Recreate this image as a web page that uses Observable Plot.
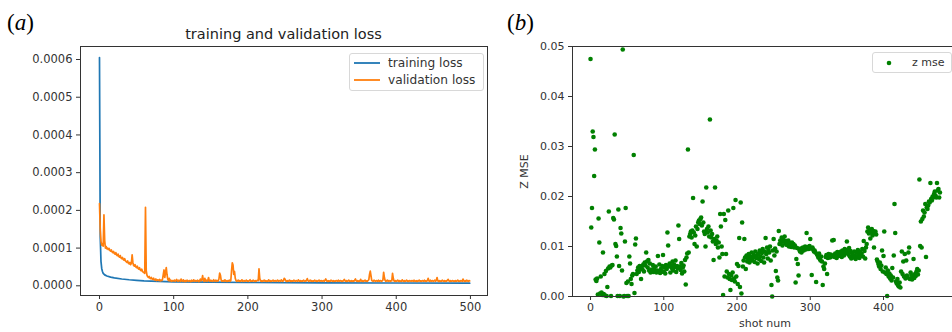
<!DOCTYPE html>
<html><head><meta charset="utf-8">
<script src="https://cdn.jsdelivr.net/npm/d3@7"></script>
<script src="https://cdn.jsdelivr.net/npm/@observablehq/plot@0.6"></script>
<style>
body{margin:0;background:#fff;}
#fig{position:relative;width:952px;height:332px;overflow:hidden;font-family:"DejaVu Sans",sans-serif;color:#333;background:#fff;}
.abs{position:absolute;}
.panel{font-family:"Liberation Serif",serif;font-size:23px;color:#000;line-height:1;}
.leg{position:absolute;border:1px solid #d8d8d8;border-radius:3px;background:rgba(255,255,255,0.85);font-size:12.2px;color:#333;}
</style></head><body><div id="fig"></div>
<script>
// ---- panel (a): training / validation loss ----
const trainEpochs = [0,1,2,3,4,5,7,10,15,20,30,40,50,60,80,100,150,200,300,400,499];
const trainLoss = [6.05e-4,1.3e-4,6.5e-5,4.6e-5,3.8e-5,3.3e-5,2.9e-5,2.6e-5,2.3e-5,2.1e-5,1.8e-5,1.6e-5,1.45e-5,1.3e-5,1.15e-5,1.05e-5,9.5e-6,8.8e-6,8.0e-6,7.4e-6,7.0e-6];
// validation loss, one value per epoch (index = epoch)
const valLoss = [
218e-6,150e-6,118e-6,108e-6,112e-6,105e-6,188e-6,120e-6,100e-6,104e-6,
98e-6,100e-6,96e-6,99e-6,94e-6,92e-6,95e-6,90e-6,88e-6,91e-6,
86e-6,84e-6,88e-6,82e-6,80e-6,84e-6,78e-6,76e-6,80e-6,74e-6,
72e-6,75e-6,70e-6,68e-6,72e-6,66e-6,64e-6,62e-6,66e-6,60e-6,
58e-6,62e-6,56e-6,60e-6,82e-6,62e-6,54e-6,52e-6,56e-6,50e-6,
48e-6,52e-6,46e-6,44e-6,48e-6,42e-6,40e-6,44e-6,38e-6,36e-6,
35e-6,33e-6,208e-6,40e-6,28e-6,24e-6,22e-6,25e-6,20e-6,19e-6,
22e-6,18e-6,17e-6,20e-6,16e-6,15e-6,18e-6,14e-6,16e-6,15e-6,
14e-6,17e-6,13e-6,15e-6,14e-6,18e-6,30e-6,42e-6,22e-6,35e-6,
48e-6,30e-6,18e-6,14e-6,20e-6,13e-6,15e-6,12e-6,14e-6,13e-6,
13e-6,15e-6,12e-6,14e-6,17e-6,13e-6,12e-6,15e-6,14e-6,12e-6,18e-6,13e-6,12e-6,16e-6,13e-6,11e-6,14e-6,12e-6,15e-6,13e-6,
12e-6,14e-6,13e-6,11e-6,15e-6,12e-6,13e-6,16e-6,12e-6,14e-6,13e-6,12e-6,15e-6,13e-6,11e-6,14e-6,18e-6,13e-6,16e-6,27e-6,
14e-6,12e-6,20e-6,13e-6,15e-6,12e-6,14e-6,22e-6,13e-6,12e-6,15e-6,13e-6,12e-6,14e-6,16e-6,12e-6,13e-6,15e-6,12e-6,14e-6,
13e-6,18e-6,34e-6,28e-6,15e-6,12e-6,13e-6,14e-6,12e-6,16e-6,13e-6,12e-6,14e-6,12e-6,13e-6,15e-6,12e-6,14e-6,40e-6,61e-6,
55e-6,30e-6,38e-6,20e-6,14e-6,12e-6,13e-6,15e-6,12e-6,14e-6,12e-6,13e-6,16e-6,12e-6,13e-6,14e-6,12e-6,13e-6,15e-6,12e-6,
13e-6,12e-6,14e-6,16e-6,12e-6,13e-6,12e-6,15e-6,13e-6,12e-6,14e-6,12e-6,13e-6,15e-6,14e-6,45e-6,20e-6,13e-6,12e-6,14e-6,
12e-6,13e-6,15e-6,12e-6,14e-6,12e-6,13e-6,12e-6,16e-6,13e-6,12e-6,14e-6,12e-6,13e-6,15e-6,12e-6,13e-6,14e-6,12e-6,13e-6,
15e-6,12e-6,14e-6,13e-6,12e-6,16e-6,13e-6,12e-6,14e-6,20e-6,18e-6,13e-6,12e-6,14e-6,12e-6,13e-6,15e-6,12e-6,14e-6,12e-6,
13e-6,12e-6,15e-6,13e-6,12e-6,14e-6,13e-6,12e-6,16e-6,13e-6,12e-6,14e-6,12e-6,13e-6,12e-6,15e-6,13e-6,12e-6,14e-6,13e-6,
19e-6,14e-6,12e-6,13e-6,15e-6,12e-6,14e-6,12e-6,13e-6,12e-6,15e-6,13e-6,12e-6,14e-6,12e-6,13e-6,15e-6,12e-6,13e-6,14e-6,
12e-6,13e-6,14e-6,12e-6,15e-6,18e-6,13e-6,12e-6,14e-6,12e-6,13e-6,12e-6,15e-6,13e-6,12e-6,14e-6,12e-6,13e-6,12e-6,14e-6,
13e-6,12e-6,15e-6,12e-6,13e-6,14e-6,12e-6,13e-6,12e-6,14e-6,17e-6,13e-6,12e-6,14e-6,12e-6,13e-6,15e-6,12e-6,13e-6,12e-6,
14e-6,12e-6,13e-6,12e-6,15e-6,18e-6,13e-6,12e-6,14e-6,12e-6,13e-6,12e-6,17e-6,13e-6,12e-6,14e-6,12e-6,13e-6,15e-6,12e-6,
13e-6,12e-6,14e-6,16e-6,30e-6,39e-6,26e-6,14e-6,13e-6,12e-6,15e-6,13e-6,12e-6,14e-6,13e-6,12e-6,15e-6,12e-6,13e-6,14e-6,
12e-6,13e-6,15e-6,36e-6,22e-6,14e-6,12e-6,13e-6,15e-6,12e-6,14e-6,13e-6,12e-6,14e-6,13e-6,33e-6,20e-6,13e-6,12e-6,14e-6,
12e-6,13e-6,15e-6,12e-6,14e-6,12e-6,13e-6,12e-6,16e-6,13e-6,12e-6,14e-6,12e-6,13e-6,15e-6,12e-6,13e-6,12e-6,14e-6,13e-6,
12e-6,14e-6,13e-6,12e-6,15e-6,12e-6,13e-6,12e-6,14e-6,12e-6,13e-6,15e-6,12e-6,13e-6,12e-6,14e-6,13e-6,12e-6,15e-6,12e-6,
13e-6,12e-6,14e-6,20e-6,13e-6,12e-6,15e-6,12e-6,13e-6,14e-6,12e-6,13e-6,15e-6,12e-6,14e-6,22e-6,13e-6,12e-6,14e-6,12e-6,
13e-6,12e-6,15e-6,13e-6,12e-6,14e-6,12e-6,13e-6,12e-6,15e-6,17e-6,13e-6,12e-6,14e-6,12e-6,13e-6,14e-6,12e-6,13e-6,12e-6,
14e-6,12e-6,13e-6,15e-6,12e-6,13e-6,12e-6,14e-6,13e-6,12e-6,18e-6,13e-6,12e-6,14e-6,12e-6,15e-6,13e-6,12e-6,14e-6,13e-6
];
const epochTicks = [0,100,200,300,400,500];
const lossTicks = [0,0.0001,0.0002,0.0003,0.0004,0.0005,0.0006];
const seriesNames = ["training loss","validation loss"];
const seriesColors = ["#1f77b4","#ff7f0e"];

// ---- panel (b): z mse per shot (index = shot num) ----
const zMse = [
0.0475,0.0138,0.0177,0.0330,0.0319,0.0241,0.0294,0.0034,0.0031,0.0036,
0.0004,0.0156,0.0108,0.0006,0.0040,0.0008,0.0003,0.0088,0.0005,0.0045,
0.0002,0.0051,0.0001,0.0019,0.0056,0.0170,0.0060,0.0058,0.0001,0.0062,
0.0063,0.0157,0.0154,0.0324,0.0105,0.0101,0.0080,0.0001,0.0174,0.0061,
0.0001,0.0137,0.0126,0.0052,0.0494,0.0000,0.0001,0.0110,0.0177,0.0027,
0.0001,0.0030,0.0001,0.0080,0.0066,0.0035,0.0025,0.0042,0.0045,0.0283,
0.0007,0.0104,0.0116,0.0045,0.0052,0.0058,0.0049,0.0061,0.0055,0.0035,
0.0060,0.0054,0.0064,0.0050,0.0068,0.0062,0.0088,0.0070,0.0058,0.0073,
0.0052,0.0066,0.0048,0.0054,0.0050,0.0063,0.0049,0.0057,0.0051,0.0060,
0.0048,0.0052,0.0081,0.0050,0.0064,0.0047,0.0055,0.0049,0.0061,0.0083,
0.0050,0.0058,0.0046,0.0063,0.0055,0.0128,0.0102,0.0060,0.0066,0.0048,
0.0062,0.0057,0.0070,0.0052,0.0064,0.0059,0.0072,0.0049,0.0061,0.0056,
0.0142,0.0115,0.0060,0.0053,0.0067,0.0046,0.0058,0.0062,0.0050,0.0073,
0.0024,0.0078,0.0086,0.0294,0.0088,0.0120,0.0125,0.0130,0.0118,0.0132,
0.0197,0.0128,0.0105,0.0122,0.0140,0.0100,0.0135,0.0148,0.0152,0.0145,
0.0155,0.0158,0.0142,0.0190,0.0148,0.0130,0.0125,0.0100,0.0218,0.0135,
0.0128,0.0140,0.0120,0.0354,0.0132,0.0118,0.0125,0.0110,0.0073,0.0115,
0.0218,0.0105,0.0112,0.0120,0.0098,0.0108,0.0078,0.0165,0.0140,0.0100,
0.0085,0.0003,0.0165,0.0040,0.0153,0.0085,0.0050,0.0038,0.0172,0.0045,
0.0035,0.0013,0.0042,0.0033,0.0048,0.0177,0.0036,0.0030,0.0193,0.0040,
0.0065,0.0025,0.0061,0.0117,0.0019,0.0188,0.0006,0.0148,0.0060,0.0072,
0.0115,0.0078,0.0055,0.0082,0.0070,0.0076,0.0085,0.0068,0.0080,0.0074,
0.0088,0.0072,0.0079,0.0083,0.0069,0.0090,0.0077,0.0081,0.0066,0.0086,
0.0075,0.0092,0.0080,0.0071,0.0087,0.0095,0.0078,0.0068,0.0090,0.0117,
0.0085,0.0098,0.0076,0.0093,0.0088,0.0100,0.0072,0.0023,0.0000,0.0092,
0.0115,0.0082,0.0096,0.0051,0.0090,0.0038,0.0032,0.0131,0.0105,0.0112,
0.0108,0.0118,0.0102,0.0114,0.0110,0.0120,0.0106,0.0111,0.0103,0.0109,
0.0112,0.0100,0.0107,0.0104,0.0099,0.0108,0.0101,0.0105,0.0098,0.0102,
0.0028,0.0075,0.0097,0.0065,0.0042,0.0094,0.0090,0.0096,0.0088,0.0093,
0.0098,0.0092,0.0096,0.0100,0.0094,0.0127,0.0097,0.0099,0.0095,0.0101,
0.0115,0.0096,0.0043,0.0098,0.0094,0.0090,0.0092,0.0088,0.0029,0.0085,
0.0082,0.0078,0.0086,0.0075,0.0072,0.0080,0.0070,0.0023,0.0060,0.0055,
0.0066,0.0079,0.0083,0.0045,0.0077,0.0085,0.0081,0.0078,0.0084,0.0080,
0.0112,0.0082,0.0113,0.0079,0.0086,0.0083,0.0077,0.0089,0.0085,0.0081,
0.0088,0.0084,0.0090,0.0079,0.0092,0.0086,0.0082,0.0095,0.0087,0.0093,
0.0110,0.0089,0.0084,0.0097,0.0080,0.0091,0.0076,0.0087,0.0083,0.0078,
0.0090,0.0082,0.0075,0.0088,0.0079,0.0093,0.0084,0.0077,0.0089,0.0081,
0.0086,0.0095,0.0080,0.0111,0.0091,0.0076,0.0098,0.0105,0.0130,0.0138,
0.0126,0.0133,0.0116,0.0128,0.0135,0.0122,0.0131,0.0098,0.0127,0.0130,
0.0124,0.0074,0.0070,0.0065,0.0060,0.0068,0.0055,0.0062,0.0092,0.0050,
0.0081,0.0130,0.0048,0.0058,0.0045,0.0001,0.0052,0.0040,0.0046,0.0036,
0.0042,0.0032,0.0057,0.0038,0.0082,0.0185,0.0127,0.0030,0.0026,0.0035,
0.0022,0.0020,0.0028,0.0018,0.0050,0.0090,0.0045,0.0070,0.0040,0.0085,
0.0036,0.0072,0.0042,0.0038,0.0088,0.0098,0.0035,0.0048,0.0043,0.0034,
0.0040,0.0075,0.0037,0.0045,0.0041,0.0050,0.0055,0.0044,0.0052,0.0234,
0.0101,0.0150,0.0098,0.0155,0.0172,0.0160,0.0168,0.0185,0.0079,0.0178,
0.0175,0.0182,0.0190,0.0188,0.0227,0.0195,0.0192,0.0200,0.0198,0.0205,
0.0210,0.0202,0.0198,0.0227,0.0212,0.0215,0.0198,0.0208
];
const shotTicks = [0,100,200,300,400];
const mseTicks = [0,0.01,0.02,0.03,0.04,0.05];
const mseName = "z mse";
const mseColor = "green";

const fig = document.getElementById("fig");
function place(el, left, top, w) {
  const d = document.createElement("div");
  d.className = "abs";
  d.style.left = left + "px"; d.style.top = top + "px";
  if (w) d.style.width = w + "px";
  d.appendChild(el); fig.appendChild(d); return d;
}

const trainData = trainEpochs.map((e, i) => ({epoch: e, loss: trainLoss[i]}));
const valData = valLoss.map((v, i) => ({epoch: i, loss: v}));

const plotA = Plot.plot({
  width: 500, height: 332,
  marginLeft: 80, marginRight: 13, marginTop: 46, marginBottom: 37,
  style: {fontFamily: "DejaVu Sans", fontSize: "11.5px", color: "#333", background: "transparent", overflow: "visible"},
  x: {domain: [-25.6, 523]},
  y: {domain: [-0.0000257, 0.0006345]},
  marks: [
    Plot.axisX({ticks: epochTicks, tickFormat: d => String(d), tickSize: 4, tickPadding: 3, label: null, stroke: "#333"}),
    Plot.axisY({ticks: lossTicks, tickFormat: d3.format(".4f"), tickSize: 4, tickPadding: 4, label: null, stroke: "#333"}),
    Plot.line(trainData, {x: "epoch", y: "loss", stroke: seriesColors[0], strokeWidth: 1.7}),
    Plot.line(valData, {x: "epoch", y: "loss", stroke: seriesColors[1], strokeWidth: 1.7}),
    Plot.frame({stroke: "#333", strokeWidth: 1})
  ]
});
place(plotA, 0, 0, 500);

const plotB = Plot.plot({
  width: 480, height: 332,
  marginLeft: 92, marginRight: 3, marginTop: 46, marginBottom: 36,
  style: {fontFamily: "DejaVu Sans", fontSize: "11px", color: "#333", background: "transparent", overflow: "visible"},
  x: {domain: [-24.6, 501]},
  y: {domain: [0, 0.05]},
  marks: [
    Plot.axisX({ticks: shotTicks, tickFormat: d => String(d), tickSize: 4, tickPadding: 3, label: "shot num", labelAnchor: "center", labelArrow: "none", labelOffset: 30, stroke: "#333"}),
    Plot.axisY({ticks: mseTicks, tickFormat: d3.format(".2f"), tickSize: 4, tickPadding: 4, label: "Z MSE", labelAnchor: "center", labelArrow: "none", labelOffset: 52, stroke: "#333"}),
    Plot.dot(zMse.map((v, i) => ({shot: i, mse: v})), {x: "shot", y: "mse", r: 2.3, fill: mseColor, stroke: "none"}),
    Plot.frame({stroke: "#333", strokeWidth: 1})
  ]
});
place(plotB, 480, 0, 480);

// panel labels and title
const la = document.createElement("div"); la.className = "panel"; la.innerHTML = "(<i>a</i>)";
place(la, 7, 11);
const lb = document.createElement("div"); lb.className = "panel"; lb.innerHTML = "(<i>b</i>)";
place(lb, 507, 11);
const title = document.createElement("div");
title.textContent = "training and validation loss";
title.style.cssText = "font-size:14.5px;color:#222;text-align:center;width:407px;";
place(title, 80, 26);

// legend (a)
const legA = document.createElement("div");
legA.className = "leg";
legA.style.cssText += "left:349px;top:53px;width:133px;height:36px;";
seriesNames.forEach((n, i) => {
  const row = document.createElement("div");
  row.style.cssText = `position:absolute;left:3px;top:${1 + i * 17}px;height:16px;white-space:nowrap;`;
  row.innerHTML = `<svg width="28" height="16" style="vertical-align:top"><line x1="1" x2="27" y1="8" y2="8" stroke="${seriesColors[i]}" stroke-width="1.8"/></svg><span style="position:relative;left:7px;top:0px;line-height:16px;vertical-align:top">${n}</span>`;
  legA.appendChild(row);
});
fig.appendChild(legA);

// legend (b)
const legB = document.createElement("div");
legB.className = "leg";
legB.style.cssText += "left:872px;top:52px;width:78px;height:19px;font-size:11px;";
legB.innerHTML = `<svg width="30" height="19" style="position:absolute;left:0;top:0"><circle cx="16" cy="10" r="2.3" fill="${mseColor}"/></svg><span style="position:absolute;left:39px;top:2px;line-height:15px">${mseName}</span>`;
fig.appendChild(legB);
</script>
</body></html>
